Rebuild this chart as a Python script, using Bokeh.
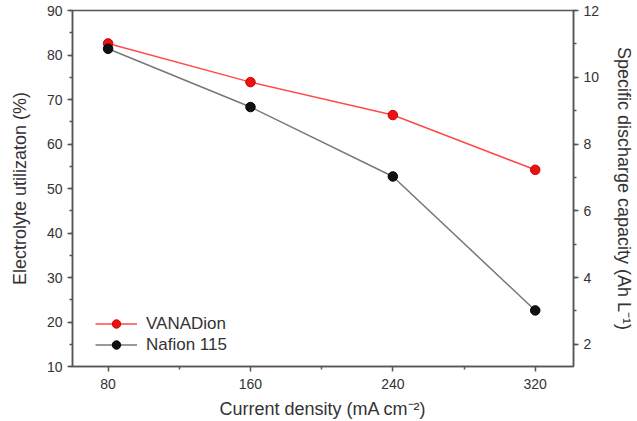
from bokeh.plotting import figure
from bokeh.models import (Range1d, LinearAxis, SingleIntervalTicker, FixedTicker,
                          Legend, LegendItem)
from bokeh.embed import file_html
from bokeh.resources import INLINE

current_density = [80, 160, 240, 320]
vanadion_util = [82.6, 73.9, 66.5, 54.2]
nafion_util = [81.4, 68.3, 52.7, 22.6]
series_names = ["VANADion", "Nafion 115"]
x_ticks = [80, 160, 240, 320]
x_minor = [120, 200, 280]

FONT = "Liberation Sans"
AX = "#555555"
TXT = "#333333"

p = figure(width=637, height=421, output_backend="svg", toolbar_location=None,
           x_range=Range1d(60, 341.5), y_range=Range1d(10, 90),
           min_border_left=72, min_border_right=55, min_border_top=10,
           min_border_bottom=55)
p.grid.visible = False
p.outline_line_color = AX
p.outline_line_width = 1.5
p.background_fill_color = "white"
p.border_fill_color = "white"

p.extra_y_ranges = {"cap": Range1d(10 * 12 / 90, 12)}

r1 = p.line(current_density, vanadion_util, line_color="#ff4a4a", line_width=1.5)
c1 = p.scatter(current_density, vanadion_util, size=9.5, fill_color="#ee1111",
               line_color="#cc0000", line_width=1)
r2 = p.line(current_density, nafion_util, line_color="#777777", line_width=1.5)
c2 = p.scatter(current_density, nafion_util, size=9.5, fill_color="#111111",
               line_color="#000000", line_width=1)

def style(ax, size="14px"):
    ax.axis_line_color = AX
    ax.axis_line_width = 1.5
    ax.major_tick_line_color = AX
    ax.minor_tick_line_color = AX
    ax.major_tick_line_width = 1.5
    ax.minor_tick_line_width = 1.5
    ax.major_tick_in = 0
    ax.major_tick_out = 5
    ax.minor_tick_in = 0
    ax.minor_tick_out = 3
    ax.major_label_text_font = FONT
    ax.major_label_text_font_size = size
    ax.major_label_text_color = TXT
    ax.axis_label_text_font = FONT
    ax.axis_label_text_font_size = "18px"
    ax.axis_label_text_font_style = "normal"
    ax.axis_label_text_color = TXT

xa = p.xaxis[0]
xa.ticker = FixedTicker(ticks=x_ticks, minor_ticks=x_minor)
xa.axis_label = "Current density (mA cm\u207b\u00b2)"
style(xa)
xa.major_label_standoff = 7
xa.axis_label_standoff = 7

ya = p.yaxis[0]
ya.ticker = SingleIntervalTicker(interval=10, num_minor_ticks=2)
ya.axis_label = "Electrolyte utilizaton (%)"
style(ya)
ya.axis_label_standoff = 14

ra = LinearAxis(y_range_name="cap", ticker=SingleIntervalTicker(interval=2, num_minor_ticks=2),
                axis_label="Specific discharge capacity (Ah L\u207b\u00b9)")
style(ra)
ra.axis_label_standoff = 12
p.add_layout(ra, "right")

legend = Legend(items=[LegendItem(label=series_names[0], renderers=[r1, c1]),
                       LegendItem(label=series_names[1], renderers=[r2, c2])],
                location=(23, 11), padding=0, margin=0, spacing=0,
                glyph_width=42, glyph_height=21, label_height=21,
                label_standoff=9, border_line_color=None,
                background_fill_alpha=0,
                label_text_font=FONT, label_text_font_size="17px",
                label_text_color=TXT)
p.add_layout(legend)

open("out.html", "w").write(file_html(p, INLINE))
